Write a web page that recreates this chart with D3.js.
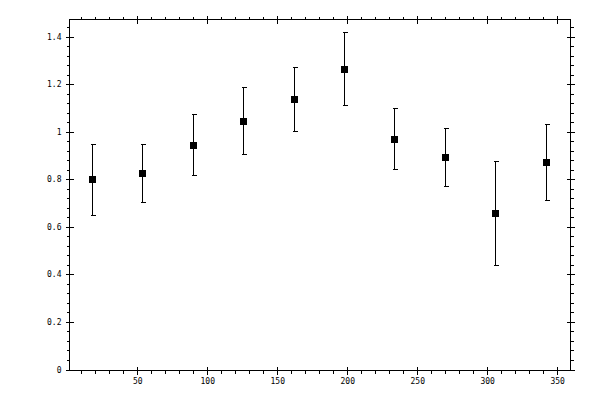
<!DOCTYPE html>
<html>
<head>
<meta charset="utf-8">
<script src="https://cdn.jsdelivr.net/npm/d3@7"></script>
<style>
  body { margin: 0; background: #fff; }
  svg text { font-family: "DejaVu Sans Mono", monospace; font-size: 8px; fill: #000; }
</style>
</head>
<body>
<div id="chart"></div>
<script>
// values
const angles = [18, 54, 90, 126, 162, 198, 234, 270, 306, 342]
const means  = [0.802, 0.827, 0.945, 1.046, 1.138, 1.264, 0.970, 0.894, 0.659, 0.873]
const lows   = [0.650, 0.706, 0.819, 0.907, 1.004, 1.113, 0.844, 0.772, 0.440, 0.713]
const highs  = [0.949, 0.946, 1.075, 1.188, 1.271, 1.420, 1.100, 1.016, 0.876, 1.033]

const xMajor = [50, 100, 150, 200, 250, 300, 350]
const yMajor = [0, 0.2, 0.4, 0.6, 0.8, 1, 1.2, 1.4]
const yLabels = ["0", "0.2", "0.4", "0.6", "0.8", "1", "1.2", "1.4"]

const W = 600, H = 400
const mLeft = 69.5, mRight = 570.5, mTop = 19.5, mBottom = 370.5

const svg = d3.select("#chart").append("svg")
    .attr("width", W)
    .attr("height", H)
    .attr("shape-rendering", "crispEdges")

const x = d3.scaleLinear().domain([1.6, 359.5]).range([mLeft, mRight])
const y = d3.scaleLinear().domain([-0.0042, 1.4715]).range([mBottom, mTop])

const xMinor = d3.range(10, 360, 10).filter(v => v % 50 !== 0)
const yMinor = d3.range(0.04, 1.47, 0.04).filter(v => Math.abs(v / 0.2 - Math.round(v / 0.2)) > 0.01)

const xFmt = d => String(d)
const yFmt = d => yLabels[yMajor.indexOf(d)]

function axisSet(make, pos, transform, fmt) {
  const isX = pos === x
  // minor ticks outward
  svg.append("g").attr("transform", transform)
    .call(make(pos).tickValues(isX ? xMinor : yMinor).tickSize(3).tickFormat(""))
  // major ticks outward (with labels where wanted)
  svg.append("g").attr("transform", transform)
    .call(make(pos).tickValues(isX ? xMajor : yMajor).tickSize(4).tickPadding(4).tickFormat(fmt || ""))
  // major ticks inward
  svg.append("g").attr("transform", transform)
    .call(make(pos).tickValues(isX ? xMajor : yMajor).tickSize(-4).tickFormat(""))
}

axisSet(d3.axisBottom, x, `translate(0,${mBottom})`, xFmt)
axisSet(d3.axisTop, x, `translate(0,${mTop})`, null)
axisSet(d3.axisLeft, y, `translate(${mLeft},0)`, yFmt)
axisSet(d3.axisRight, y, `translate(${mRight},0)`, null)

svg.selectAll(".domain").remove()
svg.selectAll(".tick line").attr("stroke", "#000")
svg.selectAll(".tick text").style("font-family", "DejaVu Sans Mono, monospace").style("font-size", "8px")

svg.append("rect")
    .attr("x", mLeft).attr("y", mTop)
    .attr("width", mRight - mLeft).attr("height", mBottom - mTop)
    .attr("fill", "none").attr("stroke", "#000")

const pts = angles.map((a, i) => ({ a, m: means[i], lo: lows[i], hi: highs[i] }))
const px = d => Math.floor(x(d.a)) + 0.5

const g = svg.append("g")
g.selectAll(".bar").data(pts).join("line")
    .attr("x1", px).attr("x2", px)
    .attr("y1", d => y(d.lo)).attr("y2", d => y(d.hi))
    .attr("stroke", "#000")
g.selectAll(".capTop").data(pts).join("line")
    .attr("x1", d => px(d) - 2).attr("x2", d => px(d) + 3)
    .attr("y1", d => Math.round(y(d.hi)) + 0.5).attr("y2", d => Math.round(y(d.hi)) + 0.5)
    .attr("stroke", "#000")
g.selectAll(".capBot").data(pts).join("line")
    .attr("x1", d => px(d) - 2).attr("x2", d => px(d) + 3)
    .attr("y1", d => Math.round(y(d.lo)) + 0.5).attr("y2", d => Math.round(y(d.lo)) + 0.5)
    .attr("stroke", "#000")
g.selectAll("rect.pt").data(pts).join("rect")
    .attr("class", "pt")
    .attr("x", d => Math.floor(x(d.a)) - 3)
    .attr("y", d => Math.round(y(d.m)) - 3)
    .attr("width", 7).attr("height", 7)
    .attr("fill", "#000")
</script>
</body>
</html>
